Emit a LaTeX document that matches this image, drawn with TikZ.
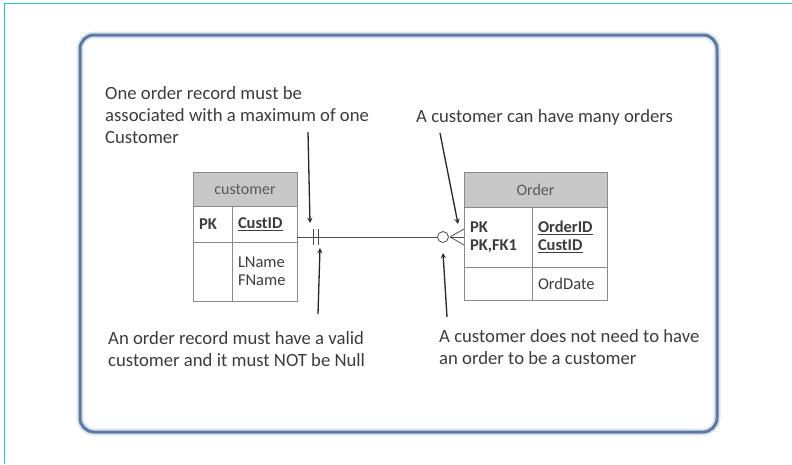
\documentclass[tikz,border=0pt]{standalone}
\usepackage{fontspec}
\setmainfont{Carlito}
\usepackage{tikz}
\usetikzlibrary{positioning}
\definecolor{frameblue}{HTML}{5A79A3}
\definecolor{cyanline}{HTML}{22C4D0}
\definecolor{txtgray}{HTML}{3C3C3C}
\definecolor{hdrgray}{HTML}{C8C8C8}
\definecolor{cellline}{HTML}{8A8A8A}
\tikzset{%
  note/.style = {align=left, anchor=base west, inner sep=0pt, text=txtgray,
        font=\fontsize{18.7}{22}\selectfont},
  hdr/.style = {rectangle, draw=cellline, fill=hdrgray, line width=0.8pt,
        outer sep=0pt, text=txtgray!85, font=\fontsize{16}{19}\selectfont},
  cell/.style = {rectangle, draw=cellline, line width=0.8pt, outer sep=0pt,
        align=left, inner xsep=6pt, text=txtgray, font=\fontsize{16.5}{18}\selectfont},
  pointer/.style = {-stealth, line width=1.3pt, black!85},
  rel/.style = {line width=0.8pt, black!70}
}

\begin{document}
\begin{tikzpicture}[x=1pt,y=-1pt]
  \useasboundingbox (0,0) rectangle (792,464);
  \draw[cyanline, line width=1pt] (4,464) -- (4,3) -- (792,3);
  % frame
  \draw[frameblue!20, line width=7pt, rounded corners=14pt] (80,35) rectangle (717,432);
  \draw[frameblue, line width=3pt, rounded corners=14pt] (80,35) rectangle (717,432);

  % customer table
  \node[hdr, minimum width=104pt, minimum height=34pt, anchor=north west] (custH) at (193,172) {customer};
  \node[cell, text width=27pt, minimum height=36pt, below right=0pt and 0pt of custH.south west] (custPK) {\textbf{PK}};
  \node[cell, text width=53pt, minimum height=36pt, right=0pt of custPK] (custKey) {\textbf{\underline{CustID}}};
  \node[cell, text width=27pt, minimum height=59pt, below=0pt of custPK] (custE) {};
  \node[cell, text width=53pt, minimum height=59pt, below=0pt of custKey] (custAttr) {LName\\FName};

  % order table
  \node[hdr, minimum width=143pt, minimum height=35pt, anchor=north west] (ordH) at (464,172) {Order};
  \node[cell, text width=56pt, minimum height=60pt, below right=0pt and 0pt of ordH.south west] (ordPK) {\textbf{PK}\\\textbf{PK,FK1}};
  \node[cell, text width=63pt, minimum height=60pt, right=0pt of ordPK] (ordKey) {\textbf{\underline{OrderID}}\\\textbf{\underline{CustID}}};
  \node[cell, text width=56pt, minimum height=33pt, below=0pt of ordPK] (ordE) {};
  \node[cell, text width=63pt, minimum height=33pt, below=0pt of ordKey] (ordAttr) {OrdDate};

  % relationship
  \coordinate (custEnd) at ([yshift=5pt]custKey.south east);
  \coordinate (ordEnd) at (ordPK.west);
  \node[circle, draw, rel, minimum size=11pt, inner sep=0pt] (optC) at ([xshift=-21pt]ordEnd) {};
  \coordinate (crow) at ([xshift=-14pt]ordEnd);
  \draw[rel] (custEnd) -- (optC);
  \foreach \dx in {16,21}
    \draw[rel] ([xshift=\dx pt, yshift=8pt]custEnd) -- ([xshift=\dx pt, yshift=-8pt]custEnd);
  \foreach \dy in {8,0,-8}
    \draw[rel] (crow) -- ([yshift=\dy pt]ordEnd);

  % notes (base = last line)
  \node[note] (oneNote) at (105,143) {One order record must be\\associated with a maximum of one\\Customer};
  \node[note] (manyNote) at (416,122) {A customer can have many orders};
  \node[note] (validNote) at (108,366) {An order record must have a valid\\customer and it must NOT be Null};
  \node[note] (optNote) at (439,364) {A customer does not need to have\\an order to be a customer};

  % pointers
  \coordinate (oneTail) at (308,132);
  \coordinate (oneHead) at (310,223);
  \coordinate (validTail) at (318,314);
  \coordinate (validHead) at (320,248);
  \coordinate (manyTail) at (440,133);
  \coordinate (manyHead) at (458,224);
  \coordinate (optTail) at (447,317);
  \coordinate (optHead) at (443,253);
  \draw[pointer] (oneTail) -- (oneHead);
  \draw[pointer] (validTail) -- (validHead);
  \draw[pointer] (manyTail) -- (manyHead);
  \draw[pointer] (optTail) -- (optHead);
\end{tikzpicture}
\end{document}
